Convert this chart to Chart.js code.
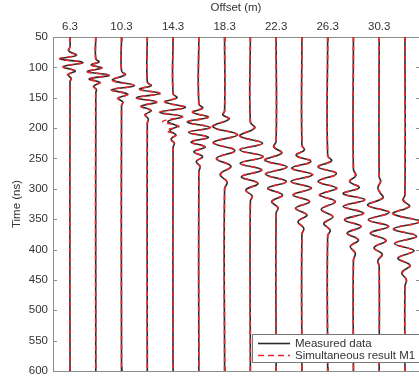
<!DOCTYPE html>
<html>
<head>
<meta charset="utf-8">
<script src="https://cdn.jsdelivr.net/npm/chart.js@4/dist/chart.umd.min.js"></script>
<style>
    html, body { margin: 0; padding: 0; background: #fff; overflow: hidden; }
    #wrap { position: relative; width: 100vw; height: 100vh; }
</style>
</head>
<body>
<div id="wrap"><canvas id="chart-traces"></canvas></div>
<script>
// Offsets (m) of each trace, and the tick labels
const offsets = [6.3, 8.3, 10.3, 12.3, 14.3, 16.3, 18.3, 20.3, 22.3, 24.3, 26.3, 28.3, 30.3, 32.3];
const offsetTicks = [6.3, 10.3, 14.3, 18.3, 22.3, 26.3, 30.3];
const timeTicks = [50, 100, 150, 200, 250, 300, 350, 400, 450, 500, 550, 600];
const OFFSET_MIN = 4.98;
const OFFSET_MAX = 33.39;

// Wiggles: [time (ns), deflection (m)] around each offset
const measured = [
    [[66, 0], [73, -0.1], [80, 0.5], [86, -0.75], [92, 1.0], [99, -0.5], [106, 0.4], [112, -0.15], [118, 0.08], [124, 0]],
    [[86, 0], [91, 0.25], [96, -0.35], [101, 0.45], [107, -0.65], [113, 1.05], [119, -0.5], [125, 0.3], [131, -0.15], [137, 0.05], [142, 0]],
    [[106, 0], [112, 0.3], [121, -0.7], [130, 1.0], [137, -0.75], [144, 0.45], [151, -0.25], [157, 0.1], [163, 0]],
    [[124, 0], [130, 0.3], [136, -0.6], [143, 0.95], [150, -0.85], [157, 0.7], [164, -0.45], [171, 0.3], [178, -0.15], [185, 0.08], [192, 0]],
    [[143, 0], [150, 0.3], [157, -0.6], [166, 0.95], [174, -1.0], [181, 0.7], [189, -0.4], [197, 0.3], [204, -0.25], [211, 0.2], [218, -0.15], [225, 0.1], [232, 0]],
    [[160, 0], [167, 0.3], [174, -0.45], [182, 0.7], [190, -0.9], [199, 0.85], [207, -0.8], [215, 0.75], [223, -0.6], [231, 0.5], [239, -0.4], [247, 0.3], [255, -0.2], [263, 0.1], [272, 0]],
    [[172, 0], [178, -0.15], [185, 0.35], [198, -0.9], [211, 1.0], [224, -0.9], [237, 0.8], [250, -0.65], [263, 0.5], [276, -0.35], [289, 0.2], [300, 0]],
    [[190, 0], [200, 0.35], [213, -0.8], [225, 0.95], [236, -0.8], [247, 1.0], [258, -0.8], [269, 0.9], [280, -0.7], [291, 0.6], [302, -0.35], [312, 0.15], [320, 0]],
    [[222, 0], [231, -0.2], [241, 0.45], [253, -0.85], [264, 0.85], [276, -0.8], [288, 0.8], [299, -0.65], [310, 0.5], [321, -0.35], [331, 0.15], [340, 0]],
    [[228, 0], [236, 0.2], [245, -0.45], [255, 0.7], [266, -0.8], [277, 0.8], [288, -0.85], [299, 0.75], [310, -0.7], [321, 0.6], [332, -0.5], [343, 0.4], [354, -0.3], [365, 0.15], [375, 0]],
    [[245, 0], [254, 0.3], [264, -0.75], [275, 0.68], [288, -0.75], [299, 0.68], [310, -0.6], [321, 0.6], [334, -0.5], [346, 0.4], [357, -0.3], [368, 0.2], [378, 0]],
    [[268, 0], [278, 0.2], [288, -0.3], [298, 0.45], [308, -0.8], [318, 0.85], [329, -0.8], [340, 0.75], [351, -0.7], [362, 0.6], [373, -0.5], [384, 0.4], [395, -0.25], [406, 0.15], [418, 0]],
    [[280, 0], [288, 0.12], [298, -0.1], [306, 0.05], [315, 0.3], [327, -0.9], [339, 0.75], [351, -0.85], [362, 0.75], [373, -0.7], [385, 0.55], [397, -0.4], [408, 0.25], [418, -0.1], [428, 0]],
    [[310, 0], [319, -0.15], [329, 0.35], [341, -0.9], [354, 1.15], [366, -0.9], [378, 0.9], [390, -0.8], [402, 0.7], [414, -0.55], [426, 0.4], [438, -0.25], [450, 0.12], [460, 0]]
];

const simulated = [
    [[66, 0], [73, -0.12], [80, 0.45], [86, -0.8], [92, 0.95], [99, -0.55], [106, 0.35], [112, -0.2], [118, 0.1], [124, 0]],
    [[86, 0], [91, 0.2], [96, -0.4], [101, 0.5], [107, -0.7], [113, 1.0], [119, -0.55], [125, 0.35], [131, -0.2], [137, 0.08], [142, 0]],
    [[106, 0], [112, 0.25], [121, -0.75], [130, 0.95], [137, -0.8], [144, 0.5], [151, -0.3], [157, 0.12], [163, 0]],
    [[124, 0], [130, 0.25], [136, -0.65], [143, 1.0], [150, -0.8], [157, 0.75], [164, -0.5], [171, 0.25], [178, -0.2], [185, 0.1], [192, 0]],
    [[143, 0], [150, 0.25], [157, -0.65], [166, 0.9], [174, -1.05], [181, 0.75], [189, -0.8], [197, 0.45], [204, -0.5], [211, 0.25], [218, -0.2], [225, 0.1], [232, 0]],
    [[160, 0], [167, 0.25], [174, -0.5], [182, 0.75], [190, -0.85], [199, 0.9], [207, -0.75], [215, 0.7], [223, -0.65], [231, 0.45], [239, -0.35], [247, 0.25], [255, -0.2], [263, 0.1], [272, 0]],
    [[172, 0], [178, -0.1], [185, 0.3], [198, -0.95], [211, 0.95], [224, -0.85], [237, 0.85], [250, -0.6], [263, 0.45], [276, -0.3], [289, 0.2], [300, 0]],
    [[190, 0], [200, 0.3], [213, -0.85], [225, 0.9], [236, -0.85], [247, 0.95], [258, -0.75], [269, 0.85], [280, -0.65], [291, 0.55], [302, -0.35], [312, 0.15], [320, 0]],
    [[222, 0], [231, -0.15], [241, 0.4], [253, -0.9], [264, 0.8], [276, -0.85], [288, 0.75], [299, -0.6], [310, 0.5], [321, -0.3], [331, 0.15], [340, 0]],
    [[228, 0], [236, 0.15], [245, -0.5], [255, 0.75], [266, -0.75], [277, 0.85], [288, -0.8], [299, 0.7], [310, -0.65], [321, 0.6], [332, -0.45], [343, 0.35], [354, -0.3], [365, 0.15], [375, 0]],
    [[245, 0], [254, 0.25], [264, -0.7], [275, 0.72], [288, -0.7], [299, 0.72], [310, -0.65], [321, 0.55], [334, -0.45], [346, 0.4], [357, -0.25], [368, 0.15], [378, 0]],
    [[268, 0], [278, 0.15], [288, -0.3], [298, 0.5], [308, -0.75], [318, 0.9], [329, -0.75], [340, 0.8], [351, -0.65], [362, 0.6], [373, -0.45], [384, 0.35], [395, -0.25], [406, 0.12], [418, 0]],
    [[280, 0], [288, 0.1], [298, -0.12], [306, 0.08], [315, 0.25], [327, -0.85], [339, 0.8], [351, -0.8], [362, 0.7], [373, -0.65], [385, 0.5], [397, -0.4], [408, 0.2], [418, -0.1], [428, 0]],
    [[310, 0], [319, -0.1], [329, 0.3], [341, -0.95], [354, 1.1], [366, -0.85], [378, 0.95], [390, -0.75], [402, 0.65], [414, -0.5], [426, 0.4], [438, -0.2], [450, 0.1], [460, 0]]
];

const TEXT = '#333';
const AXIS = '#8c8c8c';
const FONT = { family: '"Liberation Sans", Arial, sans-serif', size: 11.5 };

// wiggle -> scatter points, straight line from top to bottom of the time axis
function toPoints(offset, wiggle) {
    const tMin = timeTicks[0];
    const tMax = timeTicks[timeTicks.length - 1];
    const pts = [{ x: offset, y: tMin }];
    wiggle.forEach(([t, d]) => pts.push({ x: offset + d, y: t }));
    pts.push({ x: offset, y: tMax });
    return pts;
}

const datasets = [];
offsets.forEach((off, i) => {
    datasets.push({
        label: 'Simultaneous result M1',
        data: toPoints(off, simulated[i]),
        borderColor: '#e8262b',
        borderWidth: 1.6,
        borderDash: [5, 4],
        order: 0
    });
    datasets.push({
        label: 'Measured data',
        data: toPoints(off, measured[i]),
        borderColor: '#2a2a2a',
        borderWidth: 1.6,
        order: 1
    });
});
datasets.forEach(ds => {
    ds.showLine = true;
    ds.pointRadius = 0;
    ds.tension = 0.4;
    ds.fill = false;
});

// MATLAB style box with inward ticks (right edge falls just outside the picture)
const framePlugin = {
    id: 'frame',
    beforeDatasetsDraw(chart) {
        const { ctx, chartArea: a, scales } = chart;
        ctx.save();
        ctx.strokeStyle = AXIS;
        ctx.lineWidth = 1;
        ctx.beginPath();
        ctx.moveTo(a.right, a.top + 0.5);
        ctx.lineTo(a.left + 0.5, a.top + 0.5);
        ctx.lineTo(a.left + 0.5, a.bottom + 0.5);
        ctx.lineTo(a.right, a.bottom + 0.5);
        timeTicks.forEach(t => {
            const y = Math.round(scales.y.getPixelForValue(t)) + 0.5;
            ctx.moveTo(a.left, y); ctx.lineTo(a.left + 4, y);
            ctx.moveTo(a.right - 3, y); ctx.lineTo(a.right, y);
        });
        offsetTicks.forEach(v => {
            const x = Math.round(scales.x.getPixelForValue(v)) + 0.5;
            ctx.moveTo(x, a.top); ctx.lineTo(x, a.top + 4);
            ctx.moveTo(x, a.bottom - 4); ctx.lineTo(x, a.bottom);
        });
        ctx.stroke();
        ctx.restore();
    }
};

// legend box in the lower right corner of the plot
const legendPlugin = {
    id: 'cornerLegend',
    afterDatasetsDraw(chart) {
        const { ctx, chartArea: a } = chart;
        const left = a.right - 167, top = a.bottom - 37, bottom = a.bottom - 9;
        ctx.save();
        ctx.fillStyle = '#fff';
        ctx.fillRect(left, top, a.right + 4 - left, bottom - top);
        ctx.strokeStyle = '#777';
        ctx.lineWidth = 1;
        ctx.strokeRect(left + 0.5, top + 0.5, a.right + 4 - left, bottom - top);

        const rows = [
            { text: 'Measured data', color: '#2a2a2a', dash: [] },
            { text: 'Simultaneous result M1', color: '#e8262b', dash: [6, 4] }
        ];
        ctx.font = '11.5px "Liberation Sans", Arial, sans-serif';
        ctx.textBaseline = 'middle';
        rows.forEach((r, i) => {
            const y = top + 9.5 + i * 12;
            ctx.beginPath();
            ctx.setLineDash(r.dash);
            ctx.strokeStyle = r.color;
            ctx.lineWidth = 1.6;
            ctx.moveTo(left + 6, y);
            ctx.lineTo(left + 38, y);
            ctx.stroke();
            ctx.fillStyle = TEXT;
            ctx.fillText(r.text, left + 43, y);
        });
        ctx.restore();
    }
};

new Chart(document.getElementById('chart-traces'), {
    type: 'scatter',
    data: { datasets },
    options: {
        animation: false,
        responsive: true,
        maintainAspectRatio: false,
        layout: { padding: { top: 0, left: 0, right: 0, bottom: 0 } },
        plugins: {
            legend: { display: false },
            tooltip: { enabled: false }
        },
        scales: {
            x: {
                type: 'linear',
                position: 'top',
                min: OFFSET_MIN,
                max: OFFSET_MAX,
                afterBuildTicks: s => { s.ticks = offsetTicks.map(v => ({ value: v })); },
                afterFit: s => { s.height = 37; s.paddingLeft = 0; s.paddingRight = 0; },
                ticks: {
                    callback: v => Number(v).toFixed(1),
                    color: TEXT,
                    font: FONT,
                    padding: 3,
                    maxRotation: 0,
                    autoSkip: false
                },
                grid: { display: false, drawTicks: false },
                border: { display: false },
                title: {
                    display: true,
                    text: 'Offset (m)',
                    color: TEXT,
                    font: FONT,
                    padding: { top: 1, bottom: 0 }
                }
            },
            y: {
                reverse: true,
                min: timeTicks[0],
                max: timeTicks[timeTicks.length - 1],
                afterBuildTicks: s => { s.ticks = timeTicks.map(v => ({ value: v })); },
                afterFit: s => { s.width = 53; s.paddingTop = 0; s.paddingBottom = 7; },
                ticks: { color: TEXT, font: FONT, padding: 5 },
                grid: { display: false, drawTicks: false },
                border: { display: false },
                title: {
                    display: true,
                    text: 'Time (ns)',
                    color: TEXT,
                    font: FONT,
                    padding: { top: 10, bottom: 0 }
                }
            }
        }
    },
    plugins: [framePlugin, legendPlugin]
});
</script>
</body>
</html>
